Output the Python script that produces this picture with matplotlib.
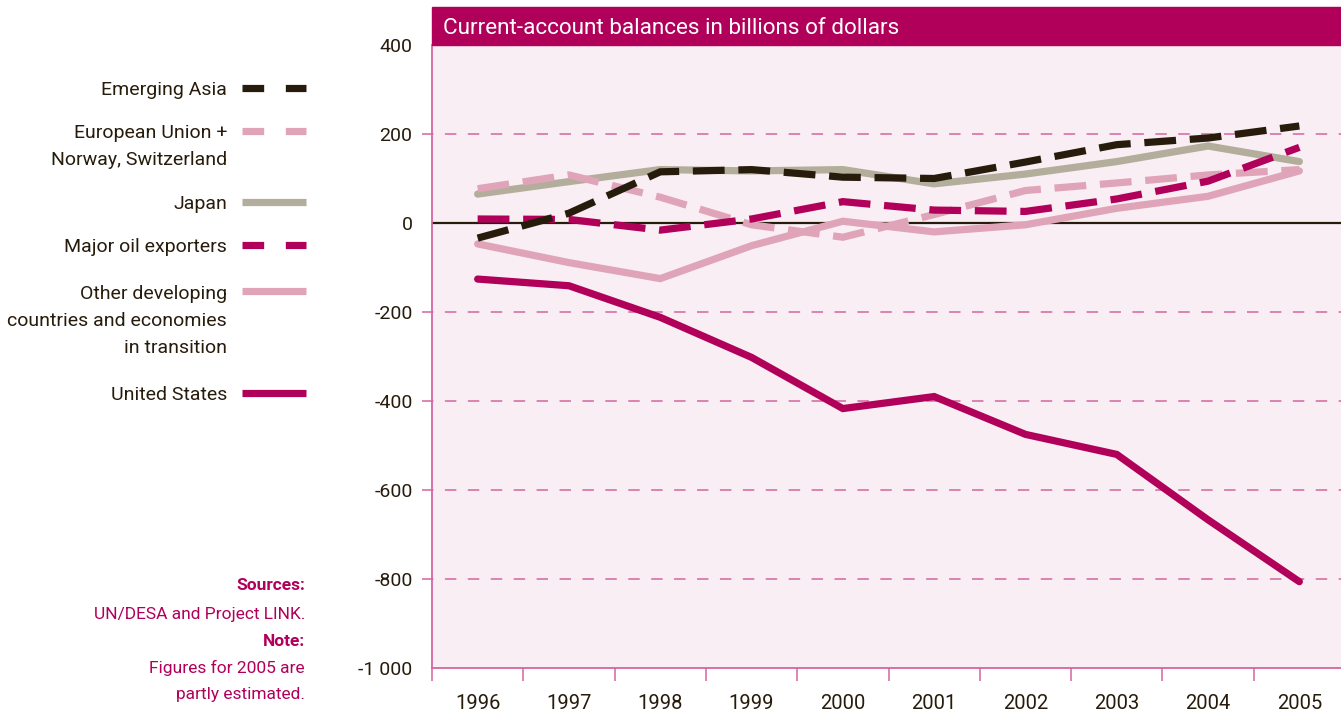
import matplotlib
matplotlib.use("Agg")
import matplotlib.pyplot as plt
from matplotlib.lines import Line2D
from matplotlib.patches import Rectangle
from matplotlib.ticker import FixedLocator, FuncFormatter, NullFormatter

# Data (billions of dollars)
years = [1996, 1997, 1998, 1999, 2000, 2001, 2002, 2003, 2004, 2005]
emerging_asia = [-34, 22, 115, 120, 103, 100, 137, 176, 191, 218]
eu_norway_swiss = [77, 108, 58, -4, -32, 19, 73, 90, 108, 120]
japan = [65, 93, 120, 117, 120, 88, 110, 138, 173, 138]
oil_exporters = [9, 8, -16, 9, 48, 29, 26, 54, 94, 170]
other_developing = [-47, -89, -125, -51, 4, -20, -4, 33, 60, 117]
united_states = [-126, -141, -212, -302, -417, -390, -475, -520, -667, -806]

y_ticks = [400, 200, 0, -200, -400, -600, -800, -1000]
grid_vals = [200, -200, -400, -600, -800]

title = "Current-account balances in billions of dollars"

W, H = 1341, 713
DARK = "#271c0c"
MAGENTA = "#b1005a"
PINK = "#dfa4b8"
GREIGE = "#b3ad9b"
GRID = "#d366a0"
BG = "#f9eef3"
FONT = "Roboto"

fig = plt.figure(figsize=(W / 100, H / 100), dpi=100)


def fx(px):
    return px / W


def fy(py):
    return 1 - py / H


ax = fig.add_axes([fx(432), fy(668), fx(1341) - fx(432), fy(45) - fy(668)])
ax.set_facecolor(BG)
ax.set_xlim(1995.5, 1995.5 + (1341 - 432) / 91.3)
ax.set_ylim(-1000, 400)

for s in ["top", "right"]:
    ax.spines[s].set_visible(False)
for s in ["left", "bottom"]:
    ax.spines[s].set_color(GRID)
    ax.spines[s].set_linewidth(1.3)

# grid lines
for g in grid_vals:
    ax.axhline(g, xmin=-10 / 909, xmax=1, color=GRID, lw=1.1,
               dashes=(7.5, 7.5), clip_on=False, zorder=1)
ax.axhline(0, color=DARK, lw=1.6, zorder=1)

# series
solid = dict(lw=5.2, solid_capstyle="round", solid_joinstyle="miter")
dash = dict(lw=5.2, dash_capstyle="butt", dash_joinstyle="miter", dashes=(4.4, 1.9))
ax.plot(years, japan, color=GREIGE, zorder=3, **solid)
ax.plot(years, other_developing, color=PINK, zorder=3, **solid)
ax.plot(years, eu_norway_swiss, color=PINK, zorder=4, **dash)
ax.plot(years, united_states, color=MAGENTA, zorder=4, **solid)
ax.plot(years, oil_exporters, color=MAGENTA, zorder=5, **dash)
ax.plot(years, emerging_asia, color=DARK, zorder=6, **dash)

# axes ticks
ax.xaxis.set_major_locator(FixedLocator(years))
ax.xaxis.set_minor_locator(FixedLocator([y - 0.5 for y in years] + [2005.5]))
ax.xaxis.set_minor_formatter(NullFormatter())
ax.tick_params(axis="x", which="major", length=0, pad=19,
               labelsize=14.5, labelcolor=DARK)
ax.tick_params(axis="x", which="minor", length=9.5, width=1.1,
               color=GRID, direction="out")
ax.yaxis.set_major_locator(FixedLocator(y_ticks))
ax.yaxis.set_major_formatter(FuncFormatter(lambda v, p: f"{v:,.0f}".replace(",", " ")))
ax.tick_params(axis="y", length=0, pad=14, labelsize=14, labelcolor=DARK)
for lab in ax.get_xticklabels() + ax.get_yticklabels():
    lab.set_family(FONT)

# title bar
fig.patches.append(Rectangle((fx(432), fy(45)), fx(1341) - fx(432), fy(7) - fy(45),
                             transform=fig.transFigure, color=MAGENTA, zorder=0))
fig.text(fx(443), fy(28.5), title, color="white", family=FONT,
         fontsize=16.2, va="center", ha="left")

# legend (drawn by hand to match the layout)
legend = [
    ("Emerging Asia", DARK, True, 88, 88),
    ("European Union +\nNorway, Switzerland", PINK, True, 131, 144.5),
    ("Japan", GREIGE, False, 202, 202),
    ("Major oil exporters", MAGENTA, True, 245, 245),
    ("Other developing\ncountries and economies\nin transition", PINK, False, 291, 319),
    ("United States", MAGENTA, False, 393, 393),
]
for label, col, dashed, ly, ty in legend:
    fig.text(fx(227), fy(ty + 2), label, ha="right", va="center", family=FONT,
             fontsize=14, color=DARK, linespacing=1.62)
    kw = dict(dashes=(3, 3), dash_capstyle="butt") if dashed else dict(solid_capstyle="butt")
    fig.add_artist(Line2D([fx(242), fx(306)], [fy(ly), fy(ly)], color=col,
                          lw=5.2, transform=fig.transFigure, **kw))

# sources / note
notes = [
    ("Sources:", "bold", 585),
    ("UN/DESA and Project LINK.", "normal", 613),
    ("Note:", "bold", 640),
    ("Figures for 2005 are", "normal", 667),
    ("partly estimated.", "normal", 693),
]
for txt, wt, ny in notes:
    fig.text(fx(305), fy(ny + 1), txt, ha="right", va="center", family=FONT,
             fontsize=12.5, fontweight=wt, color=MAGENTA)

fig.savefig("out.png", dpi=100)
